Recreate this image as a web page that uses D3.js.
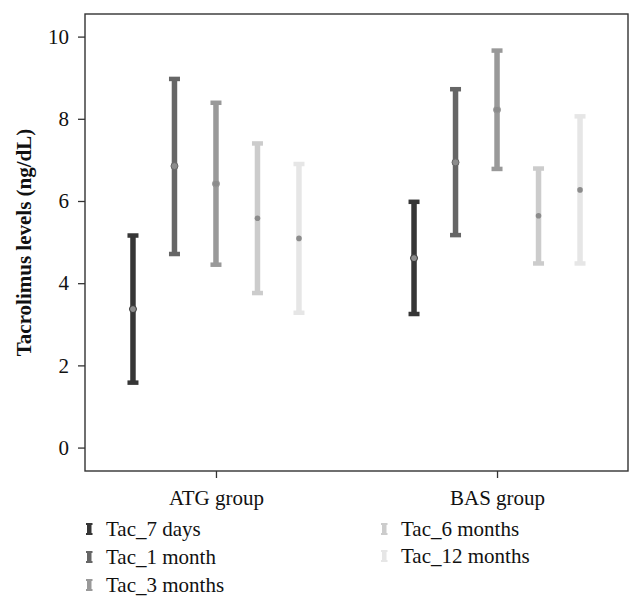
<!DOCTYPE html>
<html>
<head>
<meta charset="utf-8">
<script src="https://cdn.jsdelivr.net/npm/d3@7"></script>
<style>
  html, body { margin: 0; padding: 0; background: #fff; }
  svg { display: block; }
  text { font-family: "Liberation Serif", "DejaVu Serif", serif; fill: #111; }
</style>
</head>
<body>
<svg id="chart" width="643" height="608"></svg>
<script>
// ---- data ----
const groups = ["ATG group", "BAS group"];
const series = ["Tac_7 days", "Tac_1 month", "Tac_3 months", "Tac_6 months", "Tac_12 months"];
const colors = ["#363636", "#666666", "#999999", "#cccccc", "#e6e6e6"];
const atgMean = [3.37, 6.85, 6.42, 5.58, 5.09];
const atgLow  = [1.58, 4.71, 4.45, 3.76, 3.28];
const atgHigh = [5.16, 8.97, 8.39, 7.40, 6.90];
const basMean = [4.61, 6.94, 8.22, 5.64, 6.27];
const basLow  = [3.25, 5.17, 6.78, 4.48, 4.48];
const basHigh = [5.98, 8.72, 9.66, 6.79, 8.06];
const yTicks = [0, 2, 4, 6, 8, 10];

const rows = [];
groups.forEach((g, gi) => {
  const m = gi === 0 ? atgMean : basMean;
  const lo = gi === 0 ? atgLow : basLow;
  const hi = gi === 0 ? atgHigh : basHigh;
  series.forEach((s, si) => rows.push({ group: g, series: s, si, mean: m[si], low: lo[si], high: hi[si] }));
});

// ---- layout ----
const svg = d3.select("#chart");
const mL = 85, mR = 628, mT = 14, mB = 471;

const y = d3.scaleLinear().domain([-0.57, 10.55]).range([mB, mT]);
const x = d3.scalePoint().domain(groups).range([mL, mR]).padding(0.466);
const xs = d3.scalePoint().domain(series).range([-83, 83]);
const color = d3.scaleOrdinal().domain(series).range(colors);

// frame
svg.append("rect")
  .attr("x", mL).attr("y", mT)
  .attr("width", mR - mL).attr("height", mB - mT)
  .attr("fill", "none").attr("stroke", "#333").attr("stroke-width", 1.4);

// y axis
const yAxis = svg.append("g").attr("transform", `translate(${mL},0)`)
  .call(d3.axisLeft(y).tickValues(yTicks).tickSize(7).tickPadding(9).tickFormat(d3.format("d")));
yAxis.select(".domain").remove();
yAxis.selectAll(".tick line").attr("stroke", "#333").attr("stroke-width", 1.3);
yAxis.selectAll(".tick text").style("font-size", "21px").style("font-family", "Liberation Serif, serif").attr("fill", "#111");

// x axis
const xAxis = svg.append("g").attr("transform", `translate(0,${mB})`)
  .call(d3.axisBottom(x).tickSize(7).tickPadding(12));
xAxis.select(".domain").remove();
xAxis.selectAll(".tick line").attr("stroke", "#333").attr("stroke-width", 1.3);
xAxis.selectAll(".tick text").style("font-size", "21px").style("font-family", "Liberation Serif, serif").attr("fill", "#111");

// y label
svg.append("text")
  .attr("transform", `translate(31,${(mT + mB) / 2}) rotate(-90)`)
  .attr("text-anchor", "middle")
  .style("font-size", "21px").style("font-weight", "bold")
  .text("Tacrolimus levels (ng/dL)");

// error bars
const capW = 11, capH = 4.5, barW = 5.5;
const g = svg.append("g");
const item = g.selectAll("g.eb").data(rows).join("g").attr("class", "eb")
  .attr("transform", d => `translate(${x(d.group) + xs(d.series)},0)`);

item.append("rect")
  .attr("x", -barW / 2).attr("width", barW)
  .attr("y", d => y(d.high)).attr("height", d => y(d.low) - y(d.high))
  .attr("fill", d => color(d.series));
item.append("rect")
  .attr("x", -capW / 2).attr("width", capW)
  .attr("y", d => y(d.high) - capH / 2).attr("height", capH)
  .attr("fill", d => color(d.series));
item.append("rect")
  .attr("x", -capW / 2).attr("width", capW)
  .attr("y", d => y(d.low) - capH / 2).attr("height", capH)
  .attr("fill", d => color(d.series));
item.append("circle")
  .attr("cx", 0).attr("cy", d => y(d.mean))
  .attr("r", d => d.si < 3 ? 3.5 : 2.8)
  .attr("fill", "#8c8c8c")
  .attr("stroke", d => d.si < 3 ? color(d.series) : "none")
  .attr("stroke-width", 1);

// legend
const legendPos = [
  { x: 86, y: 536 }, { x: 86, y: 564 }, { x: 86, y: 592 },
  { x: 381, y: 536 }, { x: 381, y: 563 }
];
const leg = svg.append("g").selectAll("g").data(series).join("g")
  .attr("transform", (d, i) => `translate(${legendPos[i].x},${legendPos[i].y})`);
leg.append("rect").attr("x", 1).attr("y", -13).attr("width", 4.5).attr("height", 12).attr("fill", d => color(d));
leg.append("rect").attr("x", 0).attr("y", -13).attr("width", 6.5).attr("height", 2).attr("fill", d => color(d));
leg.append("rect").attr("x", 0).attr("y", -3).attr("width", 6.5).attr("height", 2).attr("fill", d => color(d));
leg.append("text").attr("x", 20).attr("y", 0)
  .style("font-size", "21px")
  .text(d => d);
</script>
</body>
</html>
